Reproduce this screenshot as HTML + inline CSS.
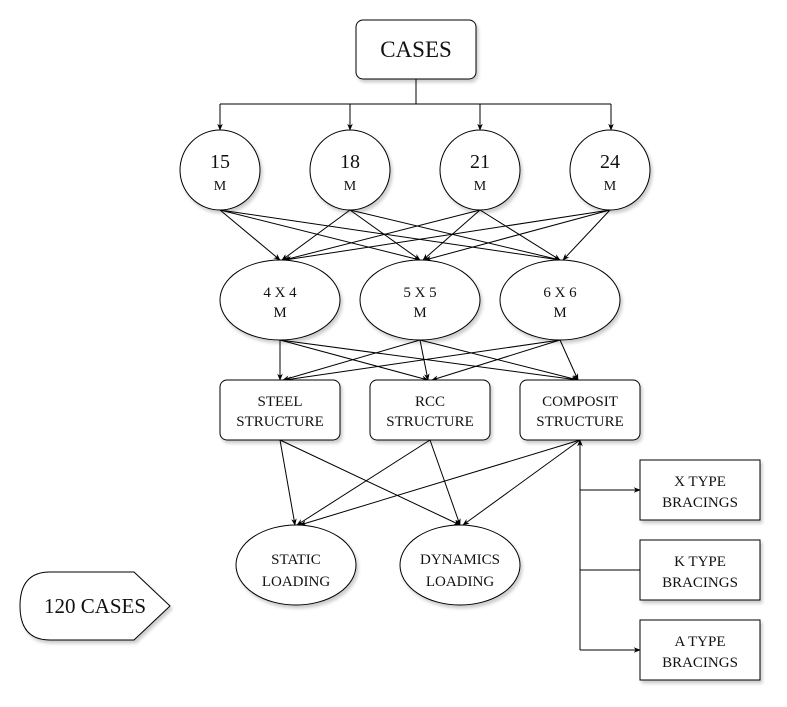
<!DOCTYPE html>
<html><head><meta charset="utf-8"><style>body{margin:0;background:#fff}svg{display:block}text{font-family:"Liberation Serif",serif;fill:#111;text-anchor:middle}</style></head>
<body>
<svg width="787" height="707" viewBox="0 0 787 707" xmlns="http://www.w3.org/2000/svg">
<defs>
<marker id="a" viewBox="0 0 10 10" refX="9" refY="5" markerWidth="7" markerHeight="7" orient="auto"><path d="M0,1 L10,5 L0,9 L3,5 z" fill="#000"/></marker>
<filter id="s" x="-10%" y="-10%" width="130%" height="130%"><feDropShadow dx="2" dy="3" stdDeviation="1.5" flood-color="#000" flood-opacity="0.2"/></filter>
</defs>
<g stroke="#000" stroke-width="1" fill="none">
<path d="M416,79 V104 M220,104 H611"/>
<path d="M220,104 V130" marker-end="url(#a)"/><path d="M350,104 V130" marker-end="url(#a)"/><path d="M480,104 V130" marker-end="url(#a)"/><path d="M611,104 V130" marker-end="url(#a)"/>
<!-- circles to ellipses -->
<g marker-end="url(#a)">
<path d="M220,210 L280,260"/><path d="M220,210 L420,260"/><path d="M220,210 L560,260"/>
<path d="M350,210 L282,260"/><path d="M350,210 L420,260"/><path d="M350,210 L560,260"/>
<path d="M480,210 L284,260"/><path d="M480,210 L423,260"/><path d="M480,210 L560,260"/>
<path d="M610,210 L285,260"/><path d="M610,210 L425,260"/><path d="M610,210 L563,260"/>
<!-- ellipses to boxes -->
<path d="M280,340 L280,380"/><path d="M280,340 L428,380"/><path d="M280,340 L578,380"/>
<path d="M420,340 L283,380"/><path d="M420,340 L428,380"/><path d="M420,340 L578,380"/>
<path d="M560,340 L285,380"/><path d="M560,340 L432,380"/><path d="M560,340 L578,380"/>
<!-- boxes to loading -->
<path d="M280,440 L295,525"/><path d="M280,440 L460,525"/>
<path d="M430,440 L297,525"/><path d="M430,440 L460,525"/>
<path d="M580,440 L300,525"/><path d="M580,440 L463,525"/>
<path d="M580,650 L580,440"/>
<path d="M580,490 H640"/><path d="M580,650 H640"/>
</g>
<path d="M580,570 H640"/>
</g>
<g fill="#fff" stroke="#000" filter="url(#s)">
<rect x="356" y="20" width="120" height="59" rx="7"/>
<circle cx="220" cy="170" r="40"/><circle cx="350" cy="170" r="40"/><circle cx="480" cy="170" r="40"/><circle cx="610" cy="170" r="40"/>
<ellipse cx="280" cy="300" rx="60" ry="40"/><ellipse cx="420" cy="300" rx="60" ry="40"/><ellipse cx="560" cy="300" rx="60" ry="40"/>
<rect x="220" y="380" width="120" height="60" rx="7"/><rect x="370" y="380" width="120" height="60" rx="7"/><rect x="520" y="380" width="120" height="60" rx="7"/>
<ellipse cx="296" cy="565" rx="60" ry="40"/><ellipse cx="460" cy="565" rx="60" ry="40"/>
<rect x="640" y="460" width="120" height="60"/><rect x="640" y="540" width="120" height="60"/><rect x="640" y="620" width="120" height="60"/>
<path d="M50,572 H134 L170,606 L134,640 H50 Q20,640 20,606 Q20,572 50,572 Z"/>
</g>
<text x="416" y="57" font-size="23">CASES</text>
<g font-size="20"><text x="220" y="168">15</text><text x="350" y="168">18</text><text x="480" y="168">21</text><text x="610" y="168">24</text></g>
<g font-size="14"><text x="220" y="190">M</text><text x="350" y="190">M</text><text x="480" y="190">M</text><text x="610" y="190">M</text></g>
<g font-size="15">
<text x="280" y="297">4 X 4</text><text x="280" y="317">M</text>
<text x="420" y="297">5 X 5</text><text x="420" y="317">M</text>
<text x="560" y="297">6 X 6</text><text x="560" y="317">M</text>
<text x="280" y="406">STEEL</text><text x="280" y="426">STRUCTURE</text>
<text x="430" y="406">RCC</text><text x="430" y="426">STRUCTURE</text>
<text x="580" y="406">COMPOSIT</text><text x="580" y="426">STRUCTURE</text>
<text x="296" y="564">STATIC</text><text x="296" y="586">LOADING</text>
<text x="460" y="564">DYNAMICS</text><text x="460" y="586">LOADING</text>
<text x="700" y="486">X TYPE</text><text x="700" y="507">BRACINGS</text>
<text x="700" y="566">K TYPE</text><text x="700" y="587">BRACINGS</text>
<text x="700" y="646">A TYPE</text><text x="700" y="667">BRACINGS</text>
</g>
<text x="95" y="613" font-size="21">120 CASES</text>
</svg>
</body></html>
